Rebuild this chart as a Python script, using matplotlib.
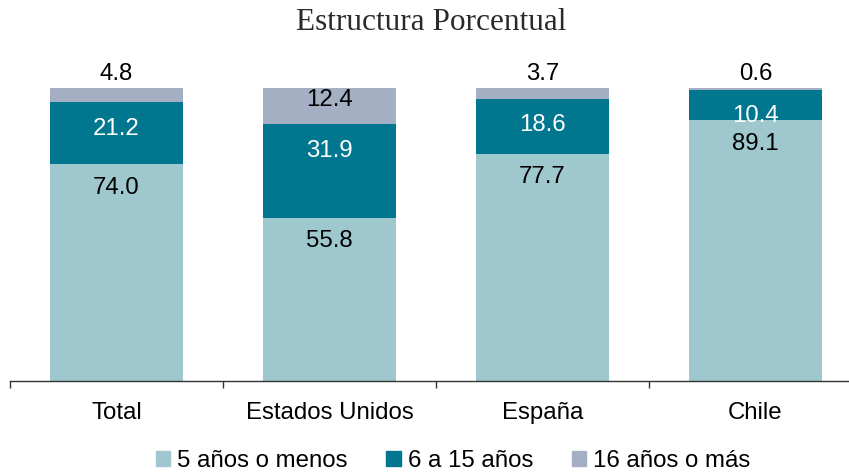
import matplotlib
matplotlib.use("Agg")
import matplotlib.pyplot as plt
from matplotlib.patches import Patch

categories = ["Total", "Estados Unidos", "España", "Chile"]
s_low = [74.0, 55.8, 77.7, 89.1]
s_mid = [21.2, 31.9, 18.6, 10.4]
s_high = [4.8, 12.4, 3.7, 0.6]
series_names = ["5 años o menos", "6 a 15 años", "16 años o más"]
colors = ["#9FC7CE", "#00778F", "#A4AFC4"]

plt.rcParams['font.family'] = ['Liberation Sans', 'DejaVu Sans']

fig = plt.figure(figsize=(8.49, 4.73), dpi=100)
W, H = 849, 473
left_px, right_px = 10, 862
bottom_px, top_px = 381, 59
ax = fig.add_axes([left_px / W, 1 - bottom_px / H, (right_px - left_px) / W, (bottom_px - top_px) / H])

x = list(range(len(categories)))
width = 0.625
ax.bar(x, s_low, width, color=colors[0], label=series_names[0])
ax.bar(x, s_mid, width, bottom=s_low, color=colors[1], label=series_names[1])
bottom3 = [a + b for a, b in zip(s_low, s_mid)]
ax.bar(x, s_high, width, bottom=bottom3, color=colors[2], label=series_names[2])

fs = 17.3
for i in x:
    ax.annotate(f"{s_low[i]:.1f}", (i, s_low[i]), xytext=(0, -17), textcoords="offset points",
                ha="center", va="center", fontsize=fs, color="black")
    ax.annotate(f"{s_mid[i]:.1f}", (i, bottom3[i]), xytext=(0, -19), textcoords="offset points",
                ha="center", va="center", fontsize=fs, color="white")
    top = bottom3[i] + s_high[i]
    if s_high[i] >= 10:
        ax.annotate(f"{s_high[i]:.1f}", (i, top), xytext=(0, -9), textcoords="offset points",
                    ha="center", va="center", fontsize=fs, color="black")
    else:
        ax.annotate(f"{s_high[i]:.1f}", (i, top), xytext=(0, 10), textcoords="offset points",
                    ha="center", va="center", fontsize=fs, color="black")

ax.set_xlim(-0.5, len(categories) - 0.5)
ax.set_ylim(0, 110)
for sp in ["top", "right", "left"]:
    ax.spines[sp].set_visible(False)
ax.spines["bottom"].set_color("#333333")
ax.spines["bottom"].set_linewidth(1.0)
ax.set_yticks([])
ax.set_xticks([i - 0.5 for i in range(len(categories) + 1)], minor=False)
ax.set_xticklabels([""] * (len(categories) + 1))
ax.tick_params(axis="x", which="major", length=5, color="#333333", width=1.0)
ax.set_xticks(x, minor=True)
ax.set_xticklabels(categories, minor=True, fontsize=fs)
ax.tick_params(axis="x", which="minor", length=0, pad=15)

fig.text(431 / W, 1 - 22 / H, "Estructura Porcentual", ha="center", va="center",
         fontsize=22.5, family=["Liberation Serif", "DejaVu Serif"], color="#2a2a2a")

handles = [Patch(color=c, label=n) for c, n in zip(colors, series_names)]
fig.legend(handles=handles, loc="center", bbox_to_anchor=(453 / W, 1 - 461 / H), ncol=3,
           frameon=False, fontsize=fs, handlelength=0.6, handleheight=0.6,
           handletextpad=0.3, columnspacing=1.6)

fig.savefig("out.png", dpi=100)
